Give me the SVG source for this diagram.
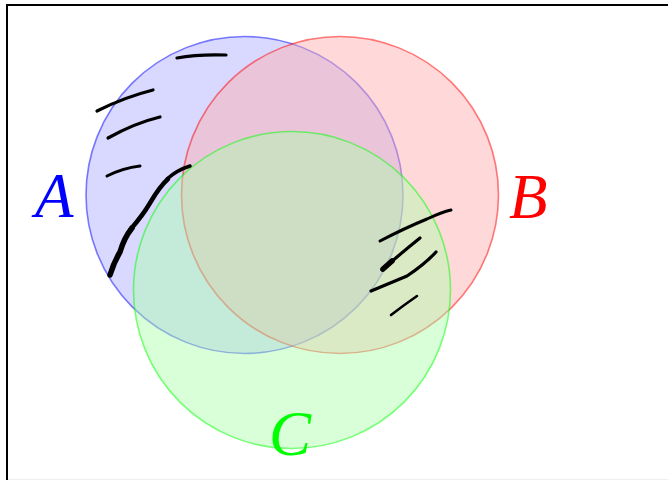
<svg xmlns="http://www.w3.org/2000/svg" width="668" height="480" viewBox="0 0 668 480">
<style>
.circ{stroke-width:1.6;fill-opacity:0.45}
.lbl{font-family:"Liberation Serif","DejaVu Serif",serif;font-style:italic;font-size:63px}
.hatch{fill:none;stroke:#000;stroke-linecap:round;stroke-linejoin:round}
</style>
<rect x="0" y="0" width="668" height="480" fill="#fff"/>
<path d="M7,480 V5 H668" fill="none" stroke="#000" stroke-width="2"/>
<line x1="8" y1="479.5" x2="668" y2="479.5" stroke="#eeeeee" stroke-width="1"/>
<g id="circleA"><circle class="circ" cx="244.5" cy="195" r="158.5" fill="#aaaaff" stroke="#0000ff" stroke-opacity="0.5"/></g>
<g id="circleB"><circle class="circ" cx="340" cy="195" r="158.5" fill="#ffaaaa" stroke="#ff0000" stroke-opacity="0.5"/></g>
<g id="circleC"><circle class="circ" cx="292" cy="290" r="158.5" fill="#aaffaa" stroke="#00ff00" stroke-opacity="0.5"/></g>
<g id="labelA"><text class="lbl" x="35" y="217" fill="#0000ff">A</text></g>
<g id="labelB"><text class="lbl" x="509" y="218" fill="#ff0000">B</text></g>
<g id="labelC"><text class="lbl" x="269" y="455" fill="#00ff00">C</text></g>
<g id="connectors">
<path class="hatch" stroke-width="3.2" d="M177,58 Q198,54 226,55"/>
<path class="hatch" stroke-width="3.2" d="M97,111 Q125,97 153,90"/>
<path class="hatch" stroke-width="3.2" d="M108,138 Q135,123 160,117"/>
<path class="hatch" stroke-width="3" d="M107,176 Q123,168 140,166"/>
<path class="hatch" stroke-width="5.5" d="M110,275 Q114,262 120,252 Q124,238 132,228"/>
<path class="hatch" stroke-width="4.5" d="M130,230 Q143,215 150,203 Q160,186 168,179"/>
<path class="hatch" stroke-width="3.5" d="M167,179 Q177,170 190,166"/>
<path class="hatch" stroke-width="3" d="M380,241 Q405,228 427,219 Q442,212 451,210"/>
<path class="hatch" stroke-width="3.2" d="M382,270 Q400,254 420,238"/>
<path class="hatch" stroke-width="5.5" d="M383,269 L392,261"/>
<path class="hatch" stroke-width="3.2" d="M371,291 Q390,283 407,276 Q425,264 436,252"/>
<path class="hatch" stroke-width="2.6" d="M391,315 Q404,305 417,296"/>
</g>
</svg>
